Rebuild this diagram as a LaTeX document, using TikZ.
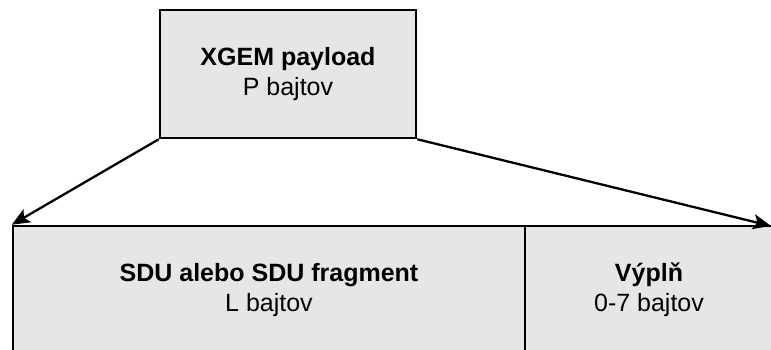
\documentclass[tikz,border=0pt]{standalone}
\usepackage{fontspec}
\setmainfont{Liberation Sans}
\usetikzlibrary{arrows.meta}
\definecolor{boxgray}{HTML}{E6E6E6}
\begin{document}
\begin{tikzpicture}[x=1pt,y=-1pt,
  box/.style={draw=black, fill=boxgray, line width=2.5pt, rectangle, inner sep=0pt,
    align=center, font=\fontsize{25}{30}\selectfont},
  conn/.style={line width=2.3pt, -{Stealth[length=18pt,width=15pt,inset=4pt]}}]
\useasboundingbox (0,0) rectangle (771,349);
\clip (0,0) rectangle (771,349);
\node[box, minimum width=256pt, minimum height=128pt] (top) at (288,74) {\textbf{XGEM payload}\\P bajtov};
\node[box, minimum width=512pt, minimum height=128pt] (sdu) at (269,290) {\textbf{SDU alebo SDU fragment}\\L bajtov};
\node[box, minimum width=248pt, minimum height=128pt] (pad) at (649,290) {\textbf{Výplň}\\0-7 bajtov};
\coordinate (tipR) at (771,226);
\draw[conn] (top.south west) -- (sdu.north west);
\draw[conn] (top.south east) -- (tipR);
\end{tikzpicture}
\end{document}
